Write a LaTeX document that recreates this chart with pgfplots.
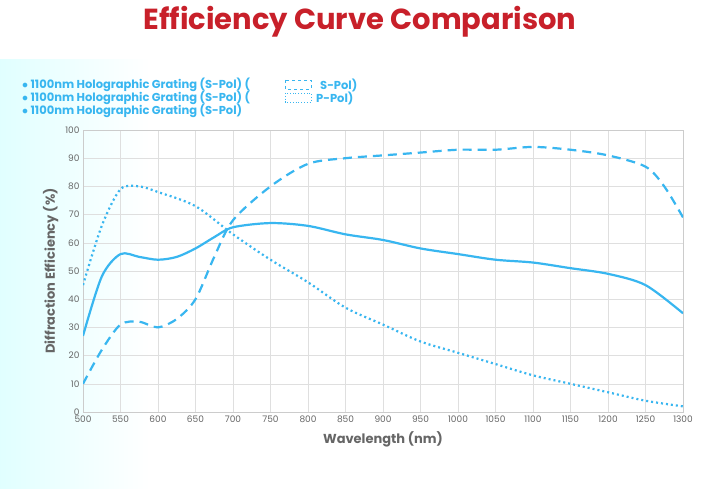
\documentclass[border=0pt]{standalone}
\usepackage{pgfplots}
\pgfplotsset{compat=1.18}
\usepackage{fontspec}
\setmainfont{Poppins}
\definecolor{lc}{HTML}{38B6F0}
\definecolor{tc}{HTML}{C8202A}
\definecolor{gc}{HTML}{666666}
\begin{document}
\begin{tikzpicture}[x=1pt,y=1pt]
\fill[white] (0,0) rectangle (706,-489);
\fill[left color=cyan!12, right color=white] (0,-60) rectangle (150,-489);
\node[text=tc,font=\fontsize{29}{32}\selectfont\bfseries] at (360,-22) {Efficiency Curve Comparison};
\begin{scope}[every node/.style={anchor=west,text=lc,font=\fontsize{11.5}{12}\selectfont\bfseries,inner sep=0}]
\node at (22,-85) {$\bullet$ 1100nm Holographic Grating (S-Pol) (};
\node at (22,-98) {$\bullet$ 1100nm Holographic Grating (S-Pol) (};
\node at (22,-111) {$\bullet$ 1100nm Holographic Grating (S-Pol)};
\node at (320,-85) {S-Pol)};
\node at (316,-98) {P-Pol)};
\draw[lc,dashed,line width=0.8] (285,-80) rectangle (311,-89);
\draw[lc,dotted,line width=0.8] (285,-93) rectangle (311,-102);
\end{scope}
\begin{axis}[at={(83pt,-412pt)},anchor=south west,scale only axis,width=600pt,height=282pt,
 xmin=500,xmax=1300,ymin=0,ymax=100,
 xtick={500,550,...,1300},ytick={0,10,...,100},
 grid=major,grid style={gray!25},axis line style={gray!40},
 tick style={draw=none},
 ticklabel style={text=gc,font=\fontsize{9}{10}\selectfont},
 /pgf/number format/assume math mode=true,
 /pgf/number format/1000 sep={},
 xlabel={Wavelength (nm)},ylabel={Diffraction Efficiency (\%)},
 label style={text=gc,font=\fontsize{13}{14}\selectfont\bfseries},
 xlabel style={yshift=-2pt}]
\addplot[lc,line width=2.2pt,smooth] coordinates {(500,27)(525,48)(550,56)(575,55)(600,54)(625,55)(650,58)(675,62)(700,65.5)(750,67)(800,66)(850,63)(900,61)(950,58)(1000,56)(1050,54)(1100,53)(1150,51)(1200,49)(1250,45)(1300,35)};
\addplot[lc,line width=2.2pt,smooth,dash pattern=on 9pt off 6pt] coordinates {(500,10)(525,22)(550,31)(575,32)(600,30)(625,33)(650,40)(675,55)(700,68)(750,80)(800,88)(850,90)(900,91)(950,92)(1000,93)(1050,93)(1100,94)(1150,93)(1200,91)(1250,87)(1275,80)(1300,69)};
\addplot[lc,line width=2.2pt,smooth,dash pattern=on 2pt off 3pt] coordinates {(500,45)(525,66)(550,79)(575,80)(600,78)(650,73)(700,63)(750,54)(800,46)(850,37)(900,31)(950,25)(1000,21)(1050,17)(1100,13)(1150,10)(1200,7)(1250,4)(1300,2)};
\end{axis}
\end{tikzpicture}
\end{document}
